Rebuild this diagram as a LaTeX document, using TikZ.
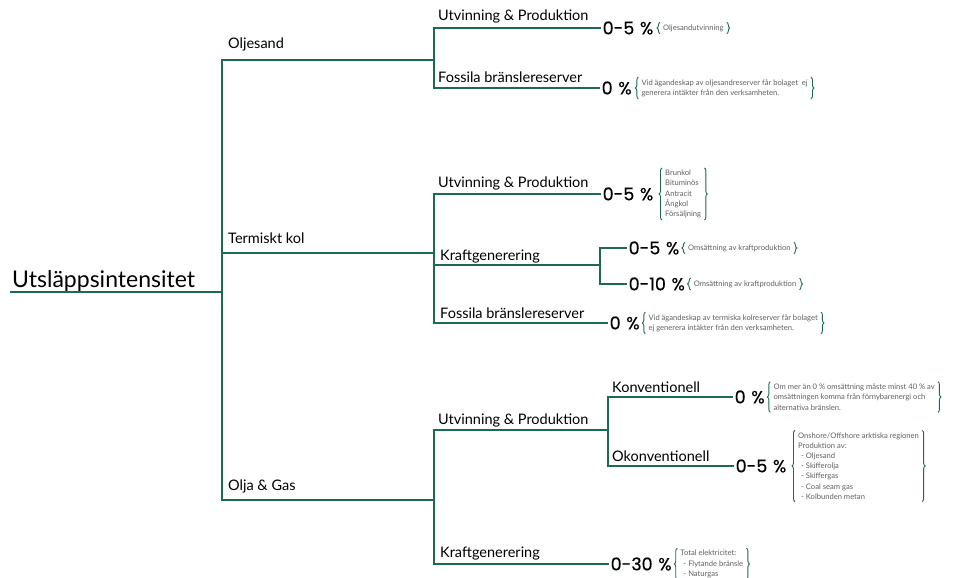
\documentclass[tikz,border=0pt]{standalone}
\usepackage{fontspec}
\setmainfont{Lato}
\newfontfamily\pctfont[FakeBold=0.4]{Poppins}
\usetikzlibrary{decorations.pathreplacing}
\definecolor{lin}{HTML}{1E6A4C}
\definecolor{ann}{HTML}{5F5F5F}
\newcommand{\pc}{\hspace{1pt}\%}
\begin{document}
\begin{tikzpicture}[x=1pt,y=-1pt,
  conn/.style={draw=lin, line width=1.3pt},
  lbl/.style={anchor=base west, inner sep=0pt, font=\fontsize{14.5}{17}\selectfont},
  rootlbl/.style={anchor=base west, inner sep=0pt, font=\fontsize{23}{27}\selectfont},
  pct/.style={anchor=west, inner sep=1.5pt, font=\pctfont\fontsize{17.5}{20}\selectfont},
  note/.style={anchor=west, inner xsep=3pt, inner ysep=2pt, text=ann, align=left,
    font=\fontsize{7.6}{10.2}\selectfont},
  brc/.style={draw=lin, line width=0.9pt, decorate, decoration={brace, amplitude=3pt}}
]
\useasboundingbox (0,0) rectangle (954,578);

% root
\node[rootlbl] (root) at (12,287) {Utsläppsintensitet};
\coordinate (r0) at (10,292);
\coordinate (r1) at (222,292);
\draw[conn] (r0) -- (r1);

% level 1 junctions
\coordinate (a) at (434,60);
\coordinate (b) at (434,253);
\coordinate (c) at (434,500);
\draw[conn] (a) -| (r1);
\draw[conn] (r1) |- (b);
\draw[conn] (r1) |- (c);
\node[lbl] (l1) at (228,49) {Oljesand};
\node[lbl] (l2) at (228,243) {Termiskt kol};
\node[lbl] (l3) at (228,490) {Olja \& Gas};

% ---- Oljesand
\node[lbl] (l11) at (438,21) {Utvinning \& Produktion};
\node[pct] (p11) at (601,28) {0-5 \pc};
\node[note] (n11) at ([xshift=5pt]p11.east) {Oljesandutvinning};
\draw[conn] (p11.west) -| (a);

\node[lbl] (l12) at (438,83) {Fossila bränslereserver};
\node[pct] (p12) at (600,88) {0 \pc};
\node[note] (n12) at ([xshift=5pt]p12.east) {Vid ägandeskap av oljesandreserver får bolaget \ ej\\generera intäkter från den verksamheten.};
\draw[conn] (a) |- (p12.west);

% ---- Termiskt kol
\node[lbl] (l21) at (438,187) {Utvinning \& Produktion};
\node[pct] (p21) at (601,194) {0-5 \pc};
\node[note] (n21) at ([xshift=7pt]p21.east) {Brunkol\\Bituminös\\Antracit\\Ångkol\\Försäljning};
\draw[conn] (p21.west) -| (b);

\coordinate (k) at (600,265);
\node[lbl] (l22) at (440,260) {Kraftgenerering};
\draw[conn] (b) |- (k);
\node[pct] (p22a) at (627,248) {0-5 \pc};
\node[note] (n22a) at ([xshift=4pt]p22a.east) {Omsättning av kraftproduktion};
\node[pct] (p22b) at (627,284) {0-10 \pc};
\node[note] (n22b) at ([xshift=4pt]p22b.east) {Omsättning av kraftproduktion};
\draw[conn] (p22a.west) -| (k) |- (p22b.west);

\node[lbl] (l23) at (440,318) {Fossila bränslereserver};
\node[pct] (p23) at (608,323) {0 \pc};
\node[note] (n23) at ([xshift=4pt]p23.east) {Vid ägandeskap av termiska kolreserver får bolaget\\ej generera intäkter från den verksamheten.};
\draw[conn] (b) |- (p23.west);

% ---- Olja & Gas
\coordinate (u) at (608,430);
\node[lbl] (l31) at (438,424) {Utvinning \& Produktion};
\draw[conn] (u) -| (c);

\node[lbl] (l311) at (612,392) {Konventionell};
\node[pct] (p31) at (733,397) {0 \pc};
\node[note] (n31) at ([xshift=4pt]p31.east) {Om mer än 0 \% omsättning måste minst 40 \% av\\omsättningen komma från förnybarenergi och\\alternativa bränslen.};

\node[lbl] (l312) at (612,461) {Okonventionell};
\node[pct] (p32) at (734,466) {0-5 \pc};
\node[note] (n32) at ([xshift=7pt]p32.east) {Onshore/Offshore arktiska regionen\\Produktion av:\\\hspace*{3pt}- Oljesand\\\hspace*{3pt}- Skifferolja\\\hspace*{3pt}- Skiffergas\\\hspace*{3pt}- Coal seam gas\\\hspace*{3pt}- Kolbunden metan};
\draw[conn] (p31.west) -| (u) |- (p32.west);

\node[lbl] (l32) at (440,557) {Kraftgenerering};
\node[pct] (p33) at (609,564) {0-30 \pc};
\node[note] (n33) at ([xshift=4pt]p33.east) {Total elektricitet:\\\hspace*{3pt}- Flytande bränsle\\\hspace*{3pt}- Naturgas};
\draw[conn] (c) |- (p33.west);

% braces
\foreach \n in {n11,n12,n21,n22a,n22b,n23,n31,n32,n33}{
  \draw[brc] (\n.south west) -- (\n.north west);
  \draw[brc] (\n.north east) -- (\n.south east);
}
\end{tikzpicture}
\end{document}
